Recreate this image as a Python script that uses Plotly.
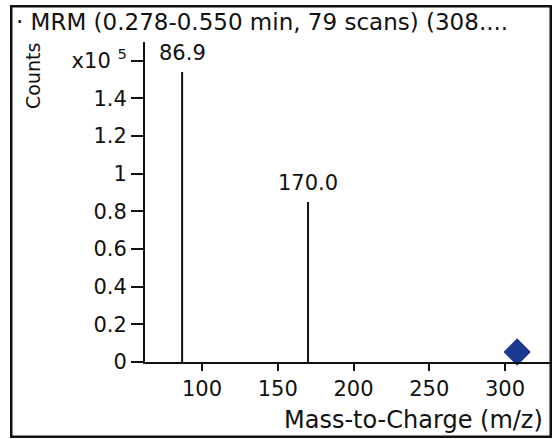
import plotly.graph_objects as go

# Data
peak_mz = [86.9, 170.0]
peak_counts = [1.54e5, 0.85e5]
precursor_mz = [308.0]
precursor_counts = [0.053e5]
y_tick_vals = [0, 0.2e5, 0.4e5, 0.6e5, 0.8e5, 1.0e5, 1.2e5, 1.4e5, 1.6e5]
y_tick_text = ["0", "0.2", "0.4", "0.6", "0.8", "1", "1.2", "1.4", "x10 <sup>5</sup>"]
x_tick_vals = [100, 150, 200, 250, 300]
title_text = "· MRM (0.278-0.550 min, 79 scans) (308...."

W, H = 558, 439
L, R, T, B = 145, 6, 42, 77
FONT = "DejaVu Sans"
INK = "#111111"

xs, ys = [], []
for m, c in zip(peak_mz, peak_counts):
    xs += [m, m, None]
    ys += [0, c, None]

fig = go.Figure()
fig.add_trace(go.Scatter(x=xs, y=ys, mode="lines",
                         line=dict(color=INK, width=2), hoverinfo="skip",
                         showlegend=False))
fig.add_trace(go.Scatter(x=precursor_mz, y=precursor_counts, mode="markers",
                         marker=dict(symbol="diamond", size=21, color="#1c3991"),
                         cliponaxis=False, showlegend=False))

for m, c in zip(peak_mz, peak_counts):
    fig.add_annotation(x=m, y=c, text=f"{m:.1f}", showarrow=False,
                       yanchor="bottom", yshift=5,
                       font=dict(family=FONT, size=21, color=INK))

pw = W - L - R
ph = H - T - B
def px(x):
    return (x - L) / pw
def py(y):
    return (H - B - y) / ph

# outer frame as four filled strips
fx0, fx1, fy0, fy1 = 10, 552, 5, 438
t = 2.5
for (a, b, c, d) in [(fx0, fy0, fx1, fy0 + t), (fx0, fy1 - t, fx1, fy1),
                     (fx0, fy0, fx0 + t, fy1), (fx1 - t, fy0, fx1, fy1)]:
    fig.add_shape(type="rect", xref="paper", yref="paper",
                  x0=px(a), y0=py(b), x1=px(c), y1=py(d),
                  line=dict(width=0), fillcolor=INK, layer="above")

fig.add_annotation(xref="paper", yref="paper", x=px(14), y=py(22),
                   xanchor="left", yanchor="middle", text=title_text,
                   showarrow=False, font=dict(family=FONT, size=23, color=INK))
fig.add_annotation(xref="paper", yref="paper", x=px(33), y=py(76),
                   xanchor="center", yanchor="middle", text="Counts", textangle=-90,
                   showarrow=False, font=dict(family=FONT, size=19, color=INK))
fig.add_annotation(xref="paper", yref="paper", x=px(545), y=py(420),
                   xanchor="right", yanchor="middle", text="Mass-to-Charge (m/z)",
                   showarrow=False, font=dict(family=FONT, size=24, color=INK))

fig.update_layout(
    width=W, height=H,
    margin=dict(l=L, r=R, t=T, b=B),
    paper_bgcolor="white", plot_bgcolor="white",
    font=dict(family=FONT, size=21, color=INK),
    xaxis=dict(range=[62.4, 331], tickvals=x_tick_vals, ticks="outside",
               ticklen=7, tickwidth=2, tickcolor=INK, showline=True,
               linecolor=INK, linewidth=2, showgrid=False, zeroline=False,
               tickfont=dict(family=FONT, size=21, color=INK)),
    yaxis=dict(range=[0, 1.7e5], tickvals=y_tick_vals, ticktext=y_tick_text,
               ticks="outside", ticklen=12, tickwidth=2, tickcolor=INK,
               showline=True, linecolor=INK, linewidth=2, showgrid=False,
               zeroline=False, tickfont=dict(family=FONT, size=21, color=INK)),
)

fig.write_html("out.html", config={"displayModeBar": False},
               post_script="document.body.style.margin='0';")
